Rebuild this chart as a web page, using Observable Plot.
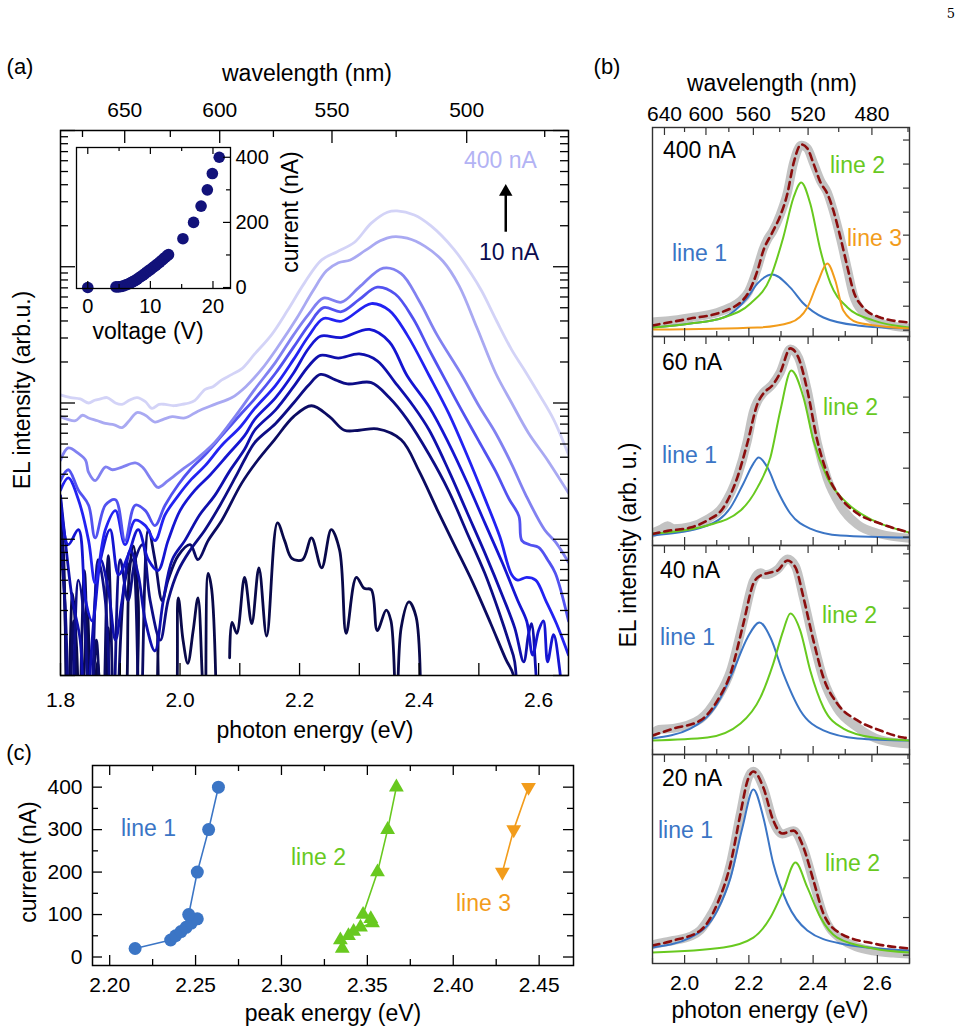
<!DOCTYPE html>
<html><head><meta charset="utf-8">
<script src="https://cdn.jsdelivr.net/npm/d3@7"></script>
<script src="https://cdn.jsdelivr.net/npm/@observablehq/plot@0.6"></script>
<style>
body{margin:0;background:#fff;}
#page{position:relative;width:962px;height:1034px;overflow:hidden;font-family:"Liberation Sans",Arial,sans-serif;background:#fff;}
#page svg{position:absolute;left:0;top:0;}
.t{position:absolute;white-space:nowrap;line-height:1;}
</style></head><body><div id="page"></div>
<script>
// ---------------- DATA ----------------
// Panel (a): EL spectra, [photon energy (eV), log10 intensity (arb.u.)]
const spec400 = [[1.800,2.06],[1.817,2.04],[1.833,2.03],[1.847,2.00],[1.857,2.02],[1.867,2.03],[1.878,2.04],[1.892,2.00],[1.903,1.99],[1.915,2.02],[1.928,2.04],[1.942,2.01],[1.953,1.96],[1.965,1.99],[1.975,1.99],[1.990,1.98],[2.003,1.99],[2.015,2.00],[2.025,2.02],[2.042,2.10],[2.055,2.12],[2.070,2.17],[2.087,2.21],[2.103,2.25],[2.125,2.36],[2.153,2.50],[2.180,2.68],[2.208,2.88],[2.237,3.05],[2.263,3.11],[2.292,3.18],[2.320,3.32],[2.347,3.40],[2.363,3.41],[2.392,3.38],[2.420,3.30],[2.458,3.13],[2.487,2.95],[2.505,2.82],[2.530,2.60],[2.555,2.39],[2.578,2.23],[2.600,2.07],[2.625,1.88],[2.650,1.62]];
const spec300 = [[1.800,1.90],[1.812,1.88],[1.825,1.87],[1.837,1.91],[1.847,1.89],[1.862,1.87],[1.875,1.85],[1.890,1.84],[1.903,1.82],[1.915,1.87],[1.928,1.93],[1.942,1.91],[1.958,1.86],[1.972,1.88],[1.987,1.90],[2.008,1.89],[2.030,1.94],[2.058,1.99],[2.087,2.04],[2.110,2.12],[2.137,2.25],[2.165,2.42],[2.195,2.62],[2.222,2.82],[2.245,2.97],[2.265,3.03],[2.285,3.05],[2.310,3.12],[2.335,3.19],[2.355,3.22],[2.380,3.21],[2.410,3.15],[2.440,3.04],[2.467,2.86],[2.497,2.55],[2.528,2.22],[2.555,2.00],[2.583,1.78],[2.615,1.58],[2.650,1.34]];
const spec200 = [[1.800,1.58],[1.813,1.67],[1.830,1.63],[1.842,1.58],[1.847,1.49],[1.858,1.43],[1.875,1.53],[1.887,1.51],[1.903,1.53],[1.925,1.56],[1.937,1.53],[1.953,1.43],[1.963,1.38],[1.980,1.43],[2.003,1.51],[2.025,1.58],[2.058,1.71],[2.092,1.90],[2.125,2.10],[2.160,2.30],[2.190,2.50],[2.215,2.65],[2.240,2.77],[2.270,2.74],[2.300,2.85],[2.340,2.99],[2.370,2.95],[2.400,2.75],[2.430,2.50],[2.472,2.20],[2.500,1.98],[2.528,1.78],[2.555,1.55],[2.578,1.33],[2.610,1.07],[2.630,0.97],[2.650,0.83]];
const spec150 = [[1.800,1.43],[1.813,1.51],[1.830,1.36],[1.847,1.25],[1.858,1.01],[1.875,1.25],[1.892,1.29],[1.908,0.99],[1.925,1.25],[1.942,1.21],[1.958,1.10],[1.975,1.25],[1.997,1.40],[2.017,1.51],[2.042,1.62],[2.070,1.76],[2.100,1.91],[2.125,2.03],[2.160,2.22],[2.190,2.41],[2.215,2.57],[2.240,2.70],[2.270,2.67],[2.300,2.76],[2.330,2.85],[2.360,2.80],[2.390,2.62],[2.417,2.39],[2.445,2.16],[2.472,1.94],[2.500,1.72],[2.528,1.50],[2.550,1.30],[2.567,1.17],[2.572,0.99],[2.585,0.96],[2.600,0.94],[2.615,0.85],[2.628,0.75],[2.650,0.40]];
const spec100 = [[1.800,1.36],[1.813,1.45],[1.830,1.29],[1.847,0.99],[1.858,0.68],[1.875,1.07],[1.892,1.21],[1.908,0.96],[1.925,1.14],[1.942,1.10],[1.958,0.99],[1.975,1.18],[1.997,1.32],[2.017,1.43],[2.042,1.54],[2.070,1.69],[2.100,1.82],[2.125,1.96],[2.160,2.13],[2.190,2.32],[2.215,2.49],[2.240,2.62],[2.270,2.60],[2.320,2.73],[2.350,2.68],[2.380,2.50],[2.417,2.20],[2.450,1.92],[2.480,1.62],[2.510,1.30],[2.535,1.02],[2.555,0.74],[2.565,0.70],[2.580,0.72],[2.595,0.70],[2.612,0.55],[2.630,0.38],[2.650,0.15]];
const spec80 = [[1.800,1.29],[1.813,0.96],[1.830,1.07],[1.842,0.55],[1.853,0.40],[1.867,0.85],[1.883,1.07],[1.897,0.74],[1.913,0.88],[1.930,1.07],[1.947,0.85],[1.963,0.77],[1.980,0.99],[2.000,1.21],[2.025,1.36],[2.050,1.47],[2.080,1.62],[2.108,1.76],[2.125,1.88],[2.160,2.04],[2.190,2.22],[2.215,2.40],[2.235,2.49],[2.270,2.48],[2.317,2.54],[2.350,2.45],[2.380,2.20],[2.417,1.97],[2.450,1.70],[2.480,1.42],[2.510,1.12],[2.540,0.82],[2.565,0.55],[2.580,0.40],[2.590,0.15],[2.600,0.33],[2.608,0.40],[2.615,0.10],[2.625,0.30],[2.635,0.05],[2.645,-0.5]];
const spec60 = [[1.800,1.32],[1.808,0.99],[1.820,0.55],[1.833,0.26],[1.842,-0.5],[1.853,0.26],[1.867,0.85],[1.880,0.63],[1.892,0.26],[1.903,0.55],[1.917,0.92],[1.930,0.74],[1.942,0.40],[1.958,0.18],[1.972,0.55],[1.987,0.85],[2.008,0.99],[2.033,1.18],[2.058,1.32],[2.083,1.50],[2.108,1.66],[2.125,1.80],[2.160,1.95],[2.190,2.12],[2.215,2.27],[2.235,2.35],[2.265,2.33],[2.300,2.36],[2.330,2.31],[2.360,2.15],[2.390,1.98],[2.417,1.80],[2.450,1.50],[2.480,1.20],[2.510,0.90],[2.540,0.58],[2.560,0.35],[2.575,0.10],[2.583,0.30],[2.588,0.38],[2.595,0.05],[2.600,-0.5]];
const spec40 = [[1.800,0.99],[1.808,0.48],[1.817,-0.5],[1.830,0.70],[1.840,0.40],[1.850,-0.5],[1.863,0.85],[1.875,0.55],[1.887,-0.5],[1.900,0.85],[1.913,0.55],[1.925,0.85],[1.937,0.96],[1.950,0.55],[1.967,0.26],[1.980,0.55],[1.997,0.77],[2.017,0.92],[2.042,1.07],[2.067,1.25],[2.092,1.45],[2.110,1.60],[2.125,1.71],[2.160,1.85],[2.190,2.00],[2.215,2.13],[2.235,2.21],[2.260,2.17],[2.280,2.14],[2.320,2.15],[2.350,2.04],[2.380,1.88],[2.417,1.62],[2.450,1.35],[2.480,1.05],[2.510,0.75],[2.535,0.45],[2.550,0.25],[2.560,0.10],[2.565,-0.5]];
const spec20 = [[1.800,1.14],[1.807,0.55],[1.813,-0.5],[1.822,0.40],[1.830,-0.5],[1.840,0.77],[1.850,-0.5],[1.860,0.26],[1.870,-0.5],[1.880,0.88],[1.892,-0.5],[1.908,0.70],[1.920,0.85],[1.933,-0.5],[1.947,1.07],[1.958,0.85],[1.970,0.55],[1.980,0.70],[1.997,0.88],[2.017,0.96],[2.030,0.85],[2.047,0.99],[2.070,1.14],[2.103,1.41],[2.130,1.58],[2.158,1.73],[2.190,1.90],[2.220,1.98],[2.250,1.90],[2.275,1.80],[2.300,1.80],[2.330,1.81],[2.370,1.73],[2.400,1.50],[2.430,1.22],[2.460,0.95],[2.490,0.68],[2.520,0.38],[2.545,0.12],[2.558,0.0],[2.565,-0.5]];
const spec10 = [[1.800,1.14],[1.805,0.90],[1.812,-0.5],[1.820,0.60],[1.827,0.20],[1.833,-0.5],[1.845,0.45],[1.852,-0.5],[1.862,0.10],[1.870,-0.5],[1.880,0.35],[1.887,-0.5],[1.900,-0.5],[1.915,0.75],[1.922,0.95],[1.930,0.55],[1.938,-0.5],[1.955,-0.5],[1.963,0.30],[1.970,-0.5],[1.985,-0.5],[1.997,0.57],[2.005,0.26],[2.013,0.09],[2.022,0.33],[2.030,0.57],[2.037,0.01],[2.042,-0.5],[2.047,0.75],[2.053,0.63],[2.062,-0.5],[2.070,null],[2.083,0.13],[2.087,0.39],[2.095,0.31],[2.108,0.72],[2.120,0.38],[2.132,0.79],[2.145,0.29],[2.163,1.12],[2.175,0.99],[2.187,0.86],[2.205,0.85],[2.220,1.01],[2.237,0.79],[2.253,1.07],[2.267,0.92],[2.278,0.31],[2.295,0.72],[2.308,0.64],[2.320,0.63],[2.330,0.33],[2.345,0.48],[2.353,0.40],[2.362,-0.3],[2.370,0.35],[2.383,0.54],[2.395,0.43],[2.403,-0.3]];
const spectraA = [spec10, spec20, spec40, spec60, spec80, spec100, spec150, spec200, spec300, spec400];
const colorsA = ["#09094a", "#0b0b62", "#0d0d86", "#0f0fac", "#1515d2", "#2222f2", "#5252f0", "#8181f1", "#a9a9f2", "#d3d3f7"];
const energyTicksA = [1.8, 1.9, 2.0, 2.1, 2.2, 2.3, 2.4, 2.5, 2.6];
const energyLabelsA = [1.8, 2.0, 2.2, 2.4, 2.6];
const wlMajorA = [650, 600, 550, 500];
const wlMinorA = [675, 625, 575, 525, 475];
const arrowA = [{e: 2.545, tail: 3.257, base: 3.53, head: 3.55}];

// Inset: voltage (V) vs current (nA)
const insetV = [0, 4.5, 4.9, 5.3, 5.7, 6.1, 6.4, 6.7, 7.0, 7.3, 7.6, 7.9, 8.2, 8.5, 8.8, 9.1, 9.4, 9.7, 10.0, 10.3, 10.6, 10.9, 11.2, 11.5, 11.8, 12.1, 12.4, 12.7, 12.9, 15.2, 16.9, 18.1, 19.1, 19.9, 21.0];
const insetI = [0, 2, 2, 3, 5, 8, 10, 13, 16, 19, 22, 26, 30, 34, 38, 42, 47, 51, 55, 60, 64, 69, 73, 78, 83, 88, 93, 98, 101, 150, 200, 250, 300, 350, 400];

// Panel (b): [photon energy (eV), intensity (arb. u.)]
const data400 = [[1.900,0.07],[1.950,0.075],[2.018,0.09],[2.102,0.115],[2.143,0.14],[2.174,0.17],[2.199,0.215],[2.227,0.33],[2.245,0.42],[2.260,0.47],[2.273,0.50],[2.298,0.585],[2.320,0.69],[2.339,0.83],[2.363,0.915],[2.382,0.90],[2.401,0.83],[2.423,0.745],[2.444,0.69],[2.463,0.60],[2.485,0.47],[2.507,0.32],[2.525,0.20],[2.556,0.115],[2.609,0.065],[2.650,0.05],[2.700,0.04]];
const fit400 = [[1.900,0.053],[2.018,0.086],[2.102,0.110],[2.143,0.134],[2.174,0.163],[2.199,0.211],[2.227,0.316],[2.245,0.411],[2.273,0.498],[2.298,0.579],[2.320,0.684],[2.339,0.828],[2.363,0.919],[2.382,0.900],[2.401,0.828],[2.423,0.737],[2.444,0.684],[2.463,0.603],[2.485,0.474],[2.507,0.330],[2.525,0.220],[2.556,0.139],[2.609,0.091],[2.700,0.067]];
const line1_400 = [[1.900,0.043],[2.018,0.062],[2.121,0.091],[2.196,0.187],[2.227,0.254],[2.273,0.297],[2.329,0.234],[2.370,0.158],[2.432,0.091],[2.538,0.053],[2.700,0.038]];
const line2_400 = [[1.900,0.043],[2.018,0.062],[2.121,0.091],[2.205,0.158],[2.267,0.282],[2.307,0.474],[2.339,0.665],[2.363,0.737],[2.391,0.636],[2.423,0.411],[2.454,0.254],[2.507,0.139],[2.587,0.077],[2.700,0.043]];
const line3_400 = [[1.900,0.033],[2.227,0.043],[2.329,0.067],[2.382,0.139],[2.413,0.254],[2.444,0.349],[2.469,0.268],[2.494,0.124],[2.538,0.067],[2.700,0.038]];
const data60 = [[1.900,0.06],[1.930,0.08],[1.947,0.095],[1.965,0.08],[2.018,0.09],[2.071,0.125],[2.121,0.19],[2.164,0.33],[2.195,0.50],[2.214,0.64],[2.227,0.69],[2.245,0.73],[2.273,0.77],[2.298,0.83],[2.329,0.94],[2.354,0.90],[2.382,0.74],[2.413,0.49],[2.444,0.32],[2.485,0.19],[2.538,0.10],[2.609,0.055],[2.700,0.035]];
const fit60 = [[1.900,0.055],[1.947,0.070],[2.018,0.086],[2.071,0.120],[2.121,0.182],[2.164,0.325],[2.195,0.488],[2.227,0.679],[2.245,0.727],[2.273,0.766],[2.298,0.828],[2.329,0.943],[2.354,0.900],[2.382,0.742],[2.413,0.502],[2.444,0.344],[2.485,0.230],[2.538,0.153],[2.609,0.105],[2.700,0.062]];
const line1_60 = [[1.900,0.048],[2.071,0.096],[2.143,0.182],[2.183,0.297],[2.214,0.392],[2.230,0.421],[2.258,0.373],[2.289,0.263],[2.329,0.153],[2.391,0.081],[2.485,0.048],[2.700,0.038]];
const line2_60 = [[1.900,0.057],[2.071,0.096],[2.174,0.167],[2.227,0.278],[2.267,0.421],[2.298,0.646],[2.332,0.837],[2.370,0.708],[2.401,0.502],[2.444,0.325],[2.507,0.201],[2.587,0.120],[2.700,0.062]];
const data40 = [[1.900,0.10],[1.920,0.12],[1.965,0.125],[2.049,0.17],[2.102,0.27],[2.143,0.40],[2.183,0.64],[2.214,0.83],[2.236,0.87],[2.250,0.86],[2.267,0.865],[2.289,0.885],[2.320,0.935],[2.345,0.90],[2.370,0.75],[2.401,0.54],[2.432,0.36],[2.475,0.22],[2.538,0.13],[2.609,0.07],[2.700,0.05]];
const fit40 = [[1.900,0.091],[1.965,0.124],[2.049,0.163],[2.102,0.258],[2.143,0.388],[2.183,0.627],[2.214,0.818],[2.236,0.856],[2.267,0.871],[2.289,0.880],[2.320,0.928],[2.345,0.895],[2.370,0.751],[2.401,0.545],[2.432,0.368],[2.475,0.244],[2.538,0.163],[2.609,0.115],[2.681,0.081],[2.700,0.078]];
const line1_40 = [[1.900,0.077],[2.018,0.124],[2.102,0.244],[2.152,0.402],[2.196,0.560],[2.233,0.632],[2.267,0.560],[2.307,0.388],[2.360,0.211],[2.432,0.115],[2.538,0.077],[2.700,0.067]];
const line2_40 = [[1.900,0.067],[2.071,0.081],[2.174,0.148],[2.236,0.273],[2.276,0.435],[2.307,0.593],[2.329,0.675],[2.360,0.593],[2.391,0.402],[2.432,0.225],[2.494,0.124],[2.587,0.081],[2.700,0.067]];
const data20 = [[1.900,0.09],[1.930,0.10],[1.965,0.11],[2.018,0.13],[2.049,0.16],[2.085,0.24],[2.102,0.29],[2.143,0.48],[2.174,0.72],[2.196,0.88],[2.214,0.92],[2.245,0.84],[2.276,0.68],[2.304,0.62],[2.339,0.635],[2.370,0.55],[2.401,0.39],[2.432,0.23],[2.485,0.12],[2.587,0.06],[2.650,0.05],[2.700,0.045]];
const fit20 = [[1.900,0.086],[1.965,0.110],[2.049,0.158],[2.102,0.287],[2.143,0.478],[2.174,0.718],[2.196,0.876],[2.214,0.919],[2.245,0.842],[2.276,0.684],[2.304,0.622],[2.339,0.636],[2.370,0.555],[2.401,0.397],[2.432,0.239],[2.485,0.144],[2.587,0.096],[2.700,0.072]];
const line1_20 = [[1.900,0.077],[2.018,0.124],[2.102,0.254],[2.143,0.411],[2.180,0.651],[2.214,0.833],[2.245,0.699],[2.276,0.478],[2.320,0.287],[2.382,0.158],[2.485,0.096],[2.700,0.062]];
const line2_20 = [[1.900,0.053],[2.121,0.077],[2.214,0.124],[2.267,0.220],[2.307,0.349],[2.345,0.483],[2.382,0.364],[2.423,0.220],[2.475,0.124],[2.587,0.072],[2.700,0.053]];
const ticksB400 = [0.03, 0.145, 0.26, 0.37, 0.485, 0.595, 0.71, 0.825, 0.94];
const ticksB60 = [0.04, 0.20, 0.37, 0.54, 0.71, 0.88];
const ticksB40 = [0.17, 0.30, 0.435, 0.565, 0.70, 0.83, 0.96];
const ticksB20 = [0.04, 0.22, 0.41, 0.59, 0.77, 0.955];
const energyMajorB = [2.0, 2.2, 2.4, 2.6];
const energyMinorB = [1.9, 2.1, 2.3, 2.5, 2.7];
const wlMajorB = [640, 600, 560, 520, 480];
const wlMinorB = [620, 580, 540, 500, 460];

// Panel (c): peak energy (eV) vs current (nA)
const current1 = [20, 40, 50, 60, 70, 80, 90, 100, 200, 300, 400];
const peak1 = [2.2148, 2.2355, 2.2384, 2.2415, 2.2445, 2.2475, 2.2510, 2.2460, 2.2510, 2.2576, 2.2633];
const current2 = [20, 40, 50, 60, 70, 80, 90, 100, 200, 300, 400];
const peak2 = [2.3354, 2.3343, 2.3390, 2.3420, 2.3460, 2.3530, 2.3520, 2.3475, 2.3559, 2.3618, 2.3669];
const current3 = [200, 300, 400];
const peak3 = [2.4286, 2.4352, 2.4438];

// ---------------- DRAWING ----------------
const page = document.getElementById("page");
const FONT = "Liberation Sans, Arial, sans-serif";
const BLUE = "#3b75c5", GREEN = "#68c91f", ORANGE = "#f29c1b", DARKRED = "#8b0d0d", GREY = "#c3c3c3";
const toE = l => 1239.84 / l;

function txt(s, x, y, o = {}) {
  const d = document.createElement("div");
  d.className = "t";
  d.textContent = s;
  d.style.fontSize = (o.size || 23) + "px";
  d.style.color = o.color || "#000";
  if (o.font) d.style.fontFamily = o.font;
  const ax = o.anchor === "start" ? "0%" : o.anchor === "end" ? "-100%" : "-50%";
  d.style.left = x + "px";
  d.style.top = y + "px";
  d.style.transform = `translate(${ax},-50%)` + (o.rotate ? ` rotate(${o.rotate}deg)` : "");
  page.appendChild(d);
}
function addPlot(opts) {
  const svg = Plot.plot({
    width: 962, height: 1034,
    style: {background: "transparent", overflow: "visible", fontFamily: FONT, color: "#000"},
    ...opts
  });
  svg.style.position = "absolute";
  svg.style.left = "0px";
  svg.style.top = "0px";
  page.appendChild(svg);
}

// ---- Panel (a) main ----
{
  const top = 130, bottom = 675, left = 60, right = 568;
  const FH = bottom - top, FW = right - left;
  const logMajor = [1, 10, 100, 1000, 10000];
  const logMinor = [];
  for (const p of [1, 10, 100, 1000]) for (let k = 2; k <= 9; k++) logMinor.push(k * p);
  const ly = d => (d[1] == null ? NaN : Math.pow(10, d[1]));
  addPlot({
    marginLeft: left, marginRight: 962 - right, marginTop: top, marginBottom: 1034 - bottom,
    x: {domain: [1.8, 2.65], axis: null},
    y: {type: "log", domain: [1, 1e4], axis: null},
    marks: [
      ...spectraA.map((s, i) => Plot.line(s, {x: d => d[0], y: ly, stroke: colorsA[i], strokeWidth: 2.8, clip: true, curve: "catmull-rom", strokeLinejoin: "round"})),
      Plot.ruleX(energyTicksA, {insetTop: FH - 12, stroke: "#000", strokeWidth: 1.3}),
      Plot.ruleX(wlMajorA.map(toE), {insetBottom: FH - 13, stroke: "#000", strokeWidth: 1.3}),
      Plot.ruleX(wlMinorA.map(toE), {insetBottom: FH - 7, stroke: "#000", strokeWidth: 1.3}),
      Plot.ruleY(logMajor, {insetRight: FW - 15, stroke: "#000", strokeWidth: 1.3}),
      Plot.ruleY(logMajor, {insetLeft: FW - 15, stroke: "#000", strokeWidth: 1.3}),
      Plot.ruleY(logMinor, {insetRight: FW - 8, stroke: "#000", strokeWidth: 1.3}),
      Plot.ruleY(logMinor, {insetLeft: FW - 8, stroke: "#000", strokeWidth: 1.3}),
      Plot.frame({stroke: "#000", strokeWidth: 1.5}),
      Plot.axisX({ticks: energyLabelsA, tickSize: 0, tickPadding: 17, fontSize: 21, tickFormat: d3.format(".1f"), label: null}),
      Plot.axisX({anchor: "top", ticks: wlMajorA.map(toE), tickSize: 0, tickPadding: 14, fontSize: 21, tickFormat: e => String(Math.round(1239.84 / e)), label: null}),
      Plot.link(arrowA, {x1: "e", x2: "e", y1: d => Math.pow(10, d.tail), y2: d => Math.pow(10, d.base), stroke: "#000", strokeWidth: 2.5}),
      Plot.dot(arrowA, {x: "e", y: d => Math.pow(10, d.head), symbol: "triangle", r: 5, fill: "#000", stroke: "none"})
    ]
  });
  txt("(a)", 20, 67, {size: 22});
  txt("wavelength (nm)", 307, 73);
  txt("400 nA", 464, 160, {anchor: "start", color: "#b3b3f4"});
  txt("10 nA", 509, 252, {color: "#0c0c4e"});
  txt("EL intensity (arb.u.)", 22, 390, {rotate: -90});
  txt("photon energy (eV)", 315, 730);
}

// ---- Inset ----
{
  const top = 147, bottom = 288, left = 76, right = 230;
  const FH = bottom - top, FW = right - left;
  const insetPts = insetV.map((v, i) => ({v, c: insetI[i]}));
  addPlot({
    marginLeft: left, marginRight: 962 - right, marginTop: top, marginBottom: 1034 - bottom,
    x: {domain: [-1.8, 22.8], axis: null},
    y: {domain: [-3, 430], axis: null},
    marks: [
      Plot.dot(insetPts, {x: "v", y: "c", r: 5.8, fill: "#12127a", stroke: "none"}),
      Plot.ruleX([0, 10, 20], {insetTop: FH - 7, stroke: "#000", strokeWidth: 1.2}),
      Plot.ruleX([5, 15], {insetTop: FH - 4, stroke: "#000", strokeWidth: 1.2}),
      Plot.ruleX([0, 10, 20], {insetBottom: FH - 7, stroke: "#000", strokeWidth: 1.2}),
      Plot.ruleX([5, 15], {insetBottom: FH - 4, stroke: "#000", strokeWidth: 1.2}),
      Plot.ruleY([0, 200, 400], {insetLeft: FW - 7, stroke: "#000", strokeWidth: 1.2}),
      Plot.ruleY([100, 300], {insetLeft: FW - 4, stroke: "#000", strokeWidth: 1.2}),
      Plot.frame({stroke: "#000", strokeWidth: 1.3}),
      Plot.axisX({ticks: [0, 10, 20], tickSize: 0, tickPadding: 10, fontSize: 20, label: null}),
      Plot.axisY({anchor: "right", ticks: [0, 200, 400], tickSize: 0, tickPadding: 5, fontSize: 20, label: null})
    ]
  });
  txt("current (nA)", 290, 212, {rotate: -90});
  txt("voltage (V)", 148, 331);
}

// ---- Panel (b) ----
const panelsB = [
  {top: 127, data: data400, fit: fit400, comps: [[line1_400, BLUE], [line2_400, GREEN], [line3_400, ORANGE]], ticks: ticksB400},
  {top: 336, data: data60, fit: fit60, comps: [[line1_60, BLUE], [line2_60, GREEN]], ticks: ticksB60},
  {top: 545, data: data40, fit: fit40, comps: [[line1_40, BLUE], [line2_40, GREEN]], ticks: ticksB40},
  {top: 754, data: data20, fit: fit20, comps: [[line1_20, BLUE], [line2_20, GREEN]], ticks: ticksB20}
];
panelsB.forEach((p, idx) => {
  const left = 652, right = 909, top = p.top, bottom = p.top + 209;
  const FH = bottom - top, FW = right - left;
  const xy = {x: d => d[0], y: d => d[1], curve: "monotone-x", clip: true};
  addPlot({
    marginLeft: left, marginRight: 962 - right, marginTop: top, marginBottom: 1034 - bottom,
    x: {domain: [1.9, 2.7], axis: null},
    y: {domain: [0, 1], axis: null},
    marks: [
      Plot.line(p.data, {...xy, stroke: GREY, strokeWidth: 9, strokeLinejoin: "round"}),
      ...p.comps.map(([c, col]) => Plot.line(c, {...xy, stroke: col, strokeWidth: 2})),
      Plot.line(p.fit, {...xy, stroke: DARKRED, strokeWidth: 2.6, strokeDasharray: "7,5"}),
      Plot.ruleX(energyMajorB, {insetTop: FH - 8, stroke: "#333", strokeWidth: 1.2}),
      Plot.ruleX(energyMinorB, {insetTop: FH - 5, stroke: "#333", strokeWidth: 1.2}),
      Plot.ruleX(wlMajorB.map(toE), {insetBottom: FH - 8, stroke: "#333", strokeWidth: 1.2}),
      Plot.ruleX(wlMinorB.map(toE), {insetBottom: FH - 5, stroke: "#333", strokeWidth: 1.2}),
      Plot.ruleY(p.ticks, {insetLeft: FW - 6, stroke: "#333", strokeWidth: 1.2}),
      Plot.frame({stroke: "#333", strokeWidth: 1.4}),
      idx === 0 ? Plot.axisX({anchor: "top", ticks: wlMajorB.map(toE), tickSize: 0, tickPadding: 7, fontSize: 21, tickFormat: e => String(Math.round(1239.84 / e)), label: null}) : null,
      idx === 3 ? Plot.axisX({ticks: energyMajorB, tickSize: 0, tickPadding: 12, fontSize: 21, tickFormat: d3.format(".1f"), label: null}) : null
    ]
  });
});
txt("(b)", 607, 67, {size: 22});
txt("wavelength (nm)", 772, 83);
txt("EL intensity (arb. u.)", 628, 545, {rotate: -90});
txt("photon energy (eV)", 770, 1010);
txt("400 nA", 663, 150, {anchor: "start"});
txt("line 2", 830, 165, {anchor: "start", color: GREEN});
txt("line 3", 847, 238, {anchor: "start", color: ORANGE});
txt("line 1", 672, 253, {anchor: "start", color: BLUE});
txt("60 nA", 662, 362, {anchor: "start"});
txt("line 2", 823, 407, {anchor: "start", color: GREEN});
txt("line 1", 662, 455, {anchor: "start", color: BLUE});
txt("40 nA", 660, 570, {anchor: "start"});
txt("line 2", 822, 615, {anchor: "start", color: GREEN});
txt("line 1", 660, 637, {anchor: "start", color: BLUE});
txt("20 nA", 662, 778, {anchor: "start"});
txt("line 1", 658, 830, {anchor: "start", color: BLUE});
txt("line 2", 825, 863, {anchor: "start", color: GREEN});

// ---- Panel (c) ----
{
  const top = 765, bottom = 965, left = 92, right = 573;
  const FH = bottom - top, FW = right - left;
  const s1 = current1.map((c, i) => ({c, e: peak1[i]}));
  const s2 = current2.map((c, i) => ({c, e: peak2[i]}));
  const s3 = current3.map((c, i) => ({c, e: peak3[i]}));
  const xMaj = [2.20, 2.25, 2.30, 2.35, 2.40, 2.45];
  const xMin = [2.225, 2.275, 2.325, 2.375, 2.425];
  const yMaj = [0, 100, 200, 300, 400];
  const yMin = [50, 150, 250, 350];
  addPlot({
    marginLeft: left, marginRight: 962 - right, marginTop: top, marginBottom: 1034 - bottom,
    x: {domain: [2.19, 2.47], axis: null},
    y: {domain: [-20, 451], axis: null},
    marks: [
      Plot.ruleX(xMaj, {insetTop: FH - 10, stroke: "#000", strokeWidth: 1.3}),
      Plot.ruleX(xMin, {insetTop: FH - 6, stroke: "#000", strokeWidth: 1.3}),
      Plot.ruleX(xMaj, {insetBottom: FH - 10, stroke: "#000", strokeWidth: 1.3}),
      Plot.ruleX(xMin, {insetBottom: FH - 6, stroke: "#000", strokeWidth: 1.3}),
      Plot.ruleY(yMaj, {insetRight: FW - 10, stroke: "#000", strokeWidth: 1.3}),
      Plot.ruleY(yMin, {insetRight: FW - 6, stroke: "#000", strokeWidth: 1.3}),
      Plot.ruleY(yMaj, {insetLeft: FW - 10, stroke: "#000", strokeWidth: 1.3}),
      Plot.ruleY(yMin, {insetLeft: FW - 6, stroke: "#000", strokeWidth: 1.3}),
      Plot.line(s1, {x: "e", y: "c", stroke: BLUE, strokeWidth: 1.6}),
      Plot.dot(s1, {x: "e", y: "c", r: 6.5, fill: BLUE, stroke: "none"}),
      Plot.line(s2, {x: "e", y: "c", stroke: GREEN, strokeWidth: 1.6}),
      Plot.dot(s2, {x: "e", y: "c", r: 5.5, symbol: "triangle", fill: GREEN, stroke: "none"}),
      Plot.line(s3, {x: "e", y: "c", stroke: ORANGE, strokeWidth: 1.6}),
      Plot.dot(s3, {x: "e", y: "c", r: 5.5, symbol: "triangle", rotate: 180, fill: ORANGE, stroke: "none"}),
      Plot.frame({stroke: "#000", strokeWidth: 1.5}),
      Plot.axisX({ticks: xMaj, tickSize: 0, tickPadding: 12, fontSize: 21, tickFormat: d3.format(".2f"), label: null}),
      Plot.axisY({ticks: yMaj, tickSize: 0, tickPadding: 10, fontSize: 21, label: null})
    ]
  });
  txt("(c)", 19, 753, {size: 22});
  txt("current (nA)", 28, 862, {rotate: -90});
  txt("peak energy (eV)", 333, 1013);
  txt("line 1", 121, 828, {anchor: "start", color: BLUE});
  txt("line 2", 291, 857, {anchor: "start", color: GREEN});
  txt("line 3", 456, 903, {anchor: "start", color: ORANGE});
}
txt("5", 951, 13, {size: 13, font: "DejaVu Serif, serif"});
</script></body></html>
